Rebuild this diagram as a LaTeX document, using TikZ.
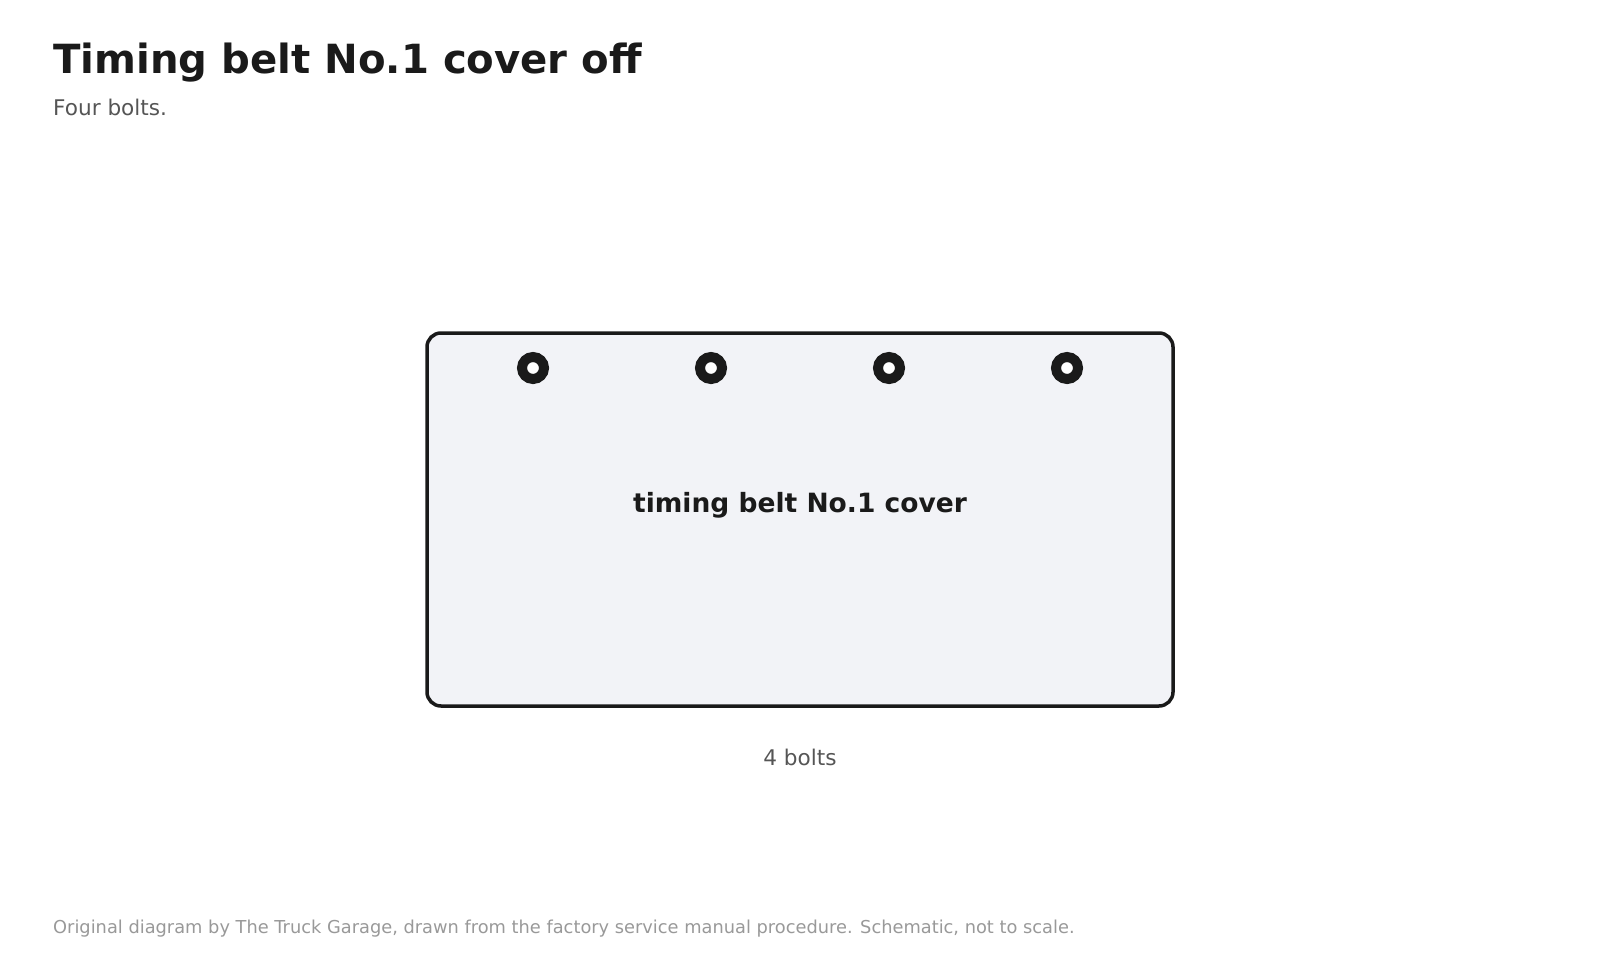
\documentclass[tikz,border=0pt]{standalone}
\usepackage{fontspec}
\setmainfont{DejaVu Sans}
\usepackage{tikz}
\definecolor{ink}{HTML}{1A1A1A}
\definecolor{muted}{HTML}{555555}
\definecolor{faint}{HTML}{999999}
\definecolor{panel}{HTML}{F2F3F7}
\begin{document}
\begin{tikzpicture}[x=1pt,y=-1pt,
	heading/.style={anchor=base west,inner sep=0,text=ink,font=\fontsize{40.2}{48}\selectfont\bfseries},
	subhead/.style={anchor=base west,inner sep=0,text=muted,font=\fontsize{21.6}{25}\selectfont},
	cover/.style={draw=ink,line width=3.5pt,fill=panel,rounded corners=14pt,inner sep=0,minimum width=746pt,minimum height=373pt},
	bolt/.style={circle,draw=ink,fill=white,line width=10pt,inner sep=0,minimum size=22pt},
	partname/.style={anchor=base,inner sep=0,text=ink,font=\fontsize{26.5}{32}\selectfont\bfseries},
	caption/.style={anchor=base,inner sep=0,text=muted,font=\fontsize{21.6}{25}\selectfont},
	credit/.style={anchor=base west,inner sep=0,text=faint,font=\fontsize{17.8}{20}\selectfont}]
	\useasboundingbox (0,0) rectangle (1600,960);
	\node[heading] (title) at (53,74) {Timing belt No.1 cover off};
	\node[subhead] (sub) at (53,116) {Four bolts.};
	\node[cover] (cover) at (800,519.5) {};
	\foreach \i/\x in {1/533,2/711,3/889,4/1067}{
		\node[bolt] (bolt\i) at (\x,368) {};
	}
	\node[partname] (covername) at (800,512.5) {timing belt No.1 cover};
	\node[caption] (count) at (800,765) {4 bolts};
	\node[credit] (footer) at (53,933) {Original diagram by The Truck Garage, drawn from the factory service manual procedure. Schematic, not to scale.};
\end{tikzpicture}
\end{document}
